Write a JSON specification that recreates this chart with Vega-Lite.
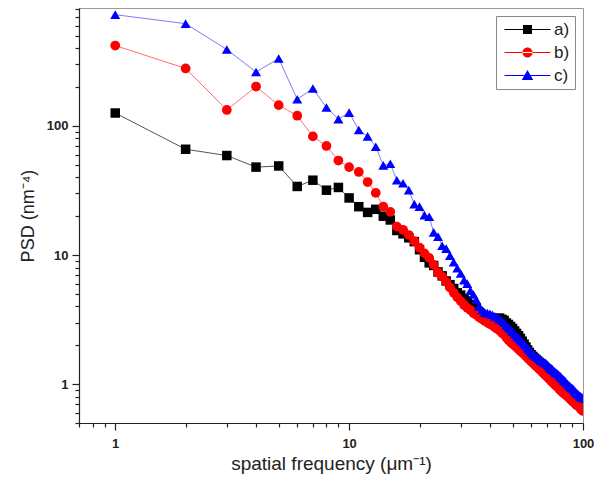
{
  "$schema": "https://vega.github.io/schema/vega-lite/v6.json",
  "width": 504,
  "height": 415,
  "autosize": "none",
  "padding": {"left": 79, "top": 8, "right": 11, "bottom": 54},
  "background": "white",
  "config": {
    "view": {"stroke": "#999999", "strokeWidth": 1},
    "font": "Liberation Sans"
  },
  "data": {"values": [
{"s":"a)","f":1,"v":126},{"s":"a)","f":2,"v":66},{"s":"a)","f":3,"v":59},{"s":"a)","f":4,"v":48},{"s":"a)","f":5,"v":49},{"s":"a)","f":6,"v":34},{"s":"a)","f":7,"v":38},{"s":"a)","f":8,"v":31.8},{"s":"a)","f":9,"v":33.4},{"s":"a)","f":10,"v":27.7},
{"s":"a)","f":11,"v":23.7},{"s":"a)","f":12,"v":21.4},{"s":"a)","f":13,"v":22.6},{"s":"a)","f":14,"v":20.0},{"s":"a)","f":15,"v":18.7},{"s":"a)","f":16,"v":15.5},{"s":"a)","f":17,"v":14.6},{"s":"a)","f":18,"v":13.6},{"s":"a)","f":19,"v":12.7},{"s":"a)","f":20,"v":11.0},
{"s":"a)","f":21,"v":9.6},{"s":"a)","f":22,"v":8.7},{"s":"a)","f":23,"v":8.3},{"s":"a)","f":24,"v":7.4},{"s":"a)","f":25,"v":6.9},{"s":"a)","f":26,"v":6.3},{"s":"a)","f":27,"v":5.9},{"s":"a)","f":28,"v":5.5},{"s":"a)","f":29,"v":5.1},{"s":"a)","f":30,"v":4.9},
{"s":"a)","f":31,"v":4.6},{"s":"a)","f":32,"v":4.4},{"s":"a)","f":33,"v":4.15},{"s":"a)","f":34,"v":4.0},{"s":"a)","f":35,"v":3.85},{"s":"a)","f":36,"v":3.6},{"s":"a)","f":37,"v":3.42},{"s":"a)","f":38,"v":3.32},{"s":"a)","f":39,"v":3.26},{"s":"a)","f":40,"v":3.24},
{"s":"a)","f":41,"v":3.22},{"s":"a)","f":42,"v":3.2},{"s":"a)","f":43,"v":3.22},{"s":"a)","f":44,"v":3.25},{"s":"a)","f":45,"v":3.18},{"s":"a)","f":46,"v":3.12},{"s":"a)","f":47,"v":2.98},{"s":"a)","f":48,"v":2.9},{"s":"a)","f":49,"v":2.8},{"s":"a)","f":50,"v":2.7},
{"s":"a)","f":51,"v":2.58},{"s":"a)","f":52,"v":2.47},{"s":"a)","f":53,"v":2.37},{"s":"a)","f":54,"v":2.26},{"s":"a)","f":55,"v":2.15},{"s":"a)","f":56,"v":2.04},{"s":"a)","f":57,"v":1.94},{"s":"a)","f":58,"v":1.84},{"s":"a)","f":59,"v":1.76},{"s":"a)","f":60,"v":1.69},
{"s":"a)","f":61,"v":1.64},{"s":"a)","f":62,"v":1.59},{"s":"a)","f":63,"v":1.55},{"s":"a)","f":64,"v":1.51},{"s":"a)","f":65,"v":1.47},{"s":"a)","f":66,"v":1.43},{"s":"a)","f":67,"v":1.4},{"s":"a)","f":68,"v":1.37},{"s":"a)","f":69,"v":1.34},{"s":"a)","f":70,"v":1.31},
{"s":"a)","f":71,"v":1.28},{"s":"a)","f":72,"v":1.24},{"s":"a)","f":73,"v":1.21},{"s":"a)","f":74,"v":1.18},{"s":"a)","f":75,"v":1.15},{"s":"a)","f":76,"v":1.12},{"s":"a)","f":77,"v":1.1},{"s":"a)","f":78,"v":1.07},{"s":"a)","f":79,"v":1.05},{"s":"a)","f":80,"v":1.03},
{"s":"a)","f":81,"v":1.0},{"s":"a)","f":82,"v":0.98},{"s":"a)","f":83,"v":0.96},{"s":"a)","f":84,"v":0.94},{"s":"a)","f":85,"v":0.92},{"s":"a)","f":86,"v":0.9},{"s":"a)","f":87,"v":0.88},{"s":"a)","f":88,"v":0.86},{"s":"a)","f":89,"v":0.85},{"s":"a)","f":90,"v":0.83},
{"s":"a)","f":91,"v":0.81},{"s":"a)","f":92,"v":0.8},{"s":"a)","f":93,"v":0.78},{"s":"a)","f":94,"v":0.77},{"s":"a)","f":95,"v":0.75},{"s":"a)","f":96,"v":0.74},{"s":"a)","f":97,"v":0.73},{"s":"a)","f":98,"v":0.72},{"s":"a)","f":99,"v":0.71},{"s":"a)","f":100,"v":0.7},
{"s":"b)","f":1,"v":420},{"s":"b)","f":2,"v":279},{"s":"b)","f":3,"v":133},{"s":"b)","f":4,"v":202},{"s":"b)","f":5,"v":145},{"s":"b)","f":6,"v":120},{"s":"b)","f":7,"v":83},{"s":"b)","f":8,"v":70},{"s":"b)","f":9,"v":54},{"s":"b)","f":10,"v":48},
{"s":"b)","f":11,"v":44},{"s":"b)","f":12,"v":36.8},{"s":"b)","f":13,"v":30.3},{"s":"b)","f":14,"v":23.7},{"s":"b)","f":15,"v":21.6},{"s":"b)","f":16,"v":16.6},{"s":"b)","f":17,"v":15.7},{"s":"b)","f":18,"v":14.3},{"s":"b)","f":19,"v":12.8},{"s":"b)","f":20,"v":11.4},
{"s":"b)","f":21,"v":10.3},{"s":"b)","f":22,"v":9.5},{"s":"b)","f":23,"v":8.4},{"s":"b)","f":24,"v":7.3},{"s":"b)","f":25,"v":6.8},{"s":"b)","f":26,"v":6.2},{"s":"b)","f":27,"v":5.6},{"s":"b)","f":28,"v":5.1},{"s":"b)","f":29,"v":4.7},{"s":"b)","f":30,"v":4.4},
{"s":"b)","f":31,"v":4.1},{"s":"b)","f":32,"v":3.9},{"s":"b)","f":33,"v":3.75},{"s":"b)","f":34,"v":3.55},{"s":"b)","f":35,"v":3.45},{"s":"b)","f":36,"v":3.3},{"s":"b)","f":37,"v":3.2},{"s":"b)","f":38,"v":3.1},{"s":"b)","f":39,"v":3.0},{"s":"b)","f":40,"v":2.92},
{"s":"b)","f":41,"v":2.85},{"s":"b)","f":42,"v":2.75},{"s":"b)","f":43,"v":2.68},{"s":"b)","f":44,"v":2.6},{"s":"b)","f":45,"v":2.5},{"s":"b)","f":46,"v":2.42},{"s":"b)","f":47,"v":2.3},{"s":"b)","f":48,"v":2.2},{"s":"b)","f":49,"v":2.12},{"s":"b)","f":50,"v":2.05},
{"s":"b)","f":51,"v":1.99},{"s":"b)","f":52,"v":1.93},{"s":"b)","f":53,"v":1.87},{"s":"b)","f":54,"v":1.81},{"s":"b)","f":55,"v":1.76},{"s":"b)","f":56,"v":1.7},{"s":"b)","f":57,"v":1.65},{"s":"b)","f":58,"v":1.6},{"s":"b)","f":59,"v":1.55},{"s":"b)","f":60,"v":1.5},
{"s":"b)","f":61,"v":1.46},{"s":"b)","f":62,"v":1.42},{"s":"b)","f":63,"v":1.38},{"s":"b)","f":64,"v":1.35},{"s":"b)","f":65,"v":1.31},{"s":"b)","f":66,"v":1.28},{"s":"b)","f":67,"v":1.24},{"s":"b)","f":68,"v":1.21},{"s":"b)","f":69,"v":1.18},{"s":"b)","f":70,"v":1.15},
{"s":"b)","f":71,"v":1.12},{"s":"b)","f":72,"v":1.09},{"s":"b)","f":73,"v":1.06},{"s":"b)","f":74,"v":1.04},{"s":"b)","f":75,"v":1.01},{"s":"b)","f":76,"v":0.99},{"s":"b)","f":77,"v":0.97},{"s":"b)","f":78,"v":0.95},{"s":"b)","f":79,"v":0.92},{"s":"b)","f":80,"v":0.9},
{"s":"b)","f":81,"v":0.88},{"s":"b)","f":82,"v":0.86},{"s":"b)","f":83,"v":0.85},{"s":"b)","f":84,"v":0.83},{"s":"b)","f":85,"v":0.82},{"s":"b)","f":86,"v":0.8},{"s":"b)","f":87,"v":0.79},{"s":"b)","f":88,"v":0.77},{"s":"b)","f":89,"v":0.76},{"s":"b)","f":90,"v":0.74},
{"s":"b)","f":91,"v":0.73},{"s":"b)","f":92,"v":0.72},{"s":"b)","f":93,"v":0.7},{"s":"b)","f":94,"v":0.69},{"s":"b)","f":95,"v":0.68},{"s":"b)","f":96,"v":0.67},{"s":"b)","f":97,"v":0.66},{"s":"b)","f":98,"v":0.64},{"s":"b)","f":99,"v":0.63},{"s":"b)","f":100,"v":0.62},
{"s":"c)","f":1,"v":728},{"s":"c)","f":2,"v":620},{"s":"c)","f":3,"v":391},{"s":"c)","f":4,"v":262},{"s":"c)","f":5,"v":333},{"s":"c)","f":6,"v":161},{"s":"c)","f":7,"v":195},{"s":"c)","f":8,"v":139},{"s":"c)","f":9,"v":113},{"s":"c)","f":10,"v":127},
{"s":"c)","f":11,"v":93},{"s":"c)","f":12,"v":83},{"s":"c)","f":13,"v":69},{"s":"c)","f":14,"v":49.5},{"s":"c)","f":15,"v":51},{"s":"c)","f":16,"v":38},{"s":"c)","f":17,"v":36},{"s":"c)","f":18,"v":31.8},{"s":"c)","f":19,"v":24.8},{"s":"c)","f":20,"v":23.7},
{"s":"c)","f":21,"v":20.4},{"s":"c)","f":22,"v":19.8},{"s":"c)","f":23,"v":15.0},{"s":"c)","f":24,"v":13.9},{"s":"c)","f":25,"v":11.8},{"s":"c)","f":26,"v":11.2},{"s":"c)","f":27,"v":9.9},{"s":"c)","f":28,"v":8.8},{"s":"c)","f":29,"v":7.9},{"s":"c)","f":30,"v":7.2},
{"s":"c)","f":31,"v":6.4},{"s":"c)","f":32,"v":6.0},{"s":"c)","f":33,"v":5.3},{"s":"c)","f":34,"v":4.95},{"s":"c)","f":35,"v":4.5},{"s":"c)","f":36,"v":4.0},{"s":"c)","f":37,"v":3.75},{"s":"c)","f":38,"v":3.6},{"s":"c)","f":39,"v":3.55},{"s":"c)","f":40,"v":3.5},
{"s":"c)","f":41,"v":3.45},{"s":"c)","f":42,"v":3.35},{"s":"c)","f":43,"v":3.3},{"s":"c)","f":44,"v":3.2},{"s":"c)","f":45,"v":3.1},{"s":"c)","f":46,"v":3.0},{"s":"c)","f":47,"v":2.85},{"s":"c)","f":48,"v":2.75},{"s":"c)","f":49,"v":2.65},{"s":"c)","f":50,"v":2.55},
{"s":"c)","f":51,"v":2.45},{"s":"c)","f":52,"v":2.35},{"s":"c)","f":53,"v":2.28},{"s":"c)","f":54,"v":2.2},{"s":"c)","f":55,"v":2.13},{"s":"c)","f":56,"v":2.05},{"s":"c)","f":57,"v":1.98},{"s":"c)","f":58,"v":1.9},{"s":"c)","f":59,"v":1.83},{"s":"c)","f":60,"v":1.77},
{"s":"c)","f":61,"v":1.72},{"s":"c)","f":62,"v":1.67},{"s":"c)","f":63,"v":1.63},{"s":"c)","f":64,"v":1.6},{"s":"c)","f":65,"v":1.57},{"s":"c)","f":66,"v":1.53},{"s":"c)","f":67,"v":1.5},{"s":"c)","f":68,"v":1.48},{"s":"c)","f":69,"v":1.46},{"s":"c)","f":70,"v":1.43},
{"s":"c)","f":71,"v":1.39},{"s":"c)","f":72,"v":1.35},{"s":"c)","f":73,"v":1.32},{"s":"c)","f":74,"v":1.3},{"s":"c)","f":75,"v":1.27},{"s":"c)","f":76,"v":1.24},{"s":"c)","f":77,"v":1.22},{"s":"c)","f":78,"v":1.2},{"s":"c)","f":79,"v":1.17},{"s":"c)","f":80,"v":1.15},
{"s":"c)","f":81,"v":1.12},{"s":"c)","f":82,"v":1.1},{"s":"c)","f":83,"v":1.07},{"s":"c)","f":84,"v":1.05},{"s":"c)","f":85,"v":1.02},{"s":"c)","f":86,"v":1.0},{"s":"c)","f":87,"v":0.98},{"s":"c)","f":88,"v":0.96},{"s":"c)","f":89,"v":0.94},{"s":"c)","f":90,"v":0.93},
{"s":"c)","f":91,"v":0.91},{"s":"c)","f":92,"v":0.89},{"s":"c)","f":93,"v":0.87},{"s":"c)","f":94,"v":0.85},{"s":"c)","f":95,"v":0.84},{"s":"c)","f":96,"v":0.82},{"s":"c)","f":97,"v":0.81},{"s":"c)","f":98,"v":0.8},{"s":"c)","f":99,"v":0.79},{"s":"c)","f":100,"v":0.78}
  ]},
  "encoding": {
    "x": {
      "field": "f", "type": "quantitative",
      "scale": {"type": "log", "domain": [0.7, 100], "nice": false},
      "axis": {
        "title": "spatial frequency (\u03bcm\u207b\u00b9)",
        "titleFont": "Liberation Sans", "titleFontSize": 19, "titleFontWeight": "normal", "titleColor": "#222222", "titlePadding": 4,
        "values": [0.7,0.8,0.9,1,2,3,4,5,6,7,8,9,10,20,30,40,50,60,70,80,90,100],
        "labelExpr": "datum.value == 1 ? '1' : datum.value == 10 ? '10' : datum.value == 100 ? '100' : ''",
        "labelOverlap": false, "labelFlush": false, "labelBound": false,
        "labelFont": "Liberation Sans", "labelFontSize": 13, "labelFontWeight": "bold", "labelColor": "#222222", "labelPadding": 7,
        "grid": false, "domainColor": "#222222", "domainWidth": 1.2, "tickColor": "#222222", "tickWidth": 1.2,
        "tickSize": {"condition": {"test": "datum.value == 1 || datum.value == 10 || datum.value == 100", "value": 7}, "value": 4}
      }
    },
    "y": {
      "field": "v", "type": "quantitative",
      "scale": {"type": "log", "domain": [0.5, 820], "nice": false},
      "axis": {
        "title": "PSD (nm\u207b\u2074)",
        "titleFont": "Liberation Sans", "titleFontSize": 18, "titleFontWeight": "normal", "titleColor": "#222222", "titlePadding": 9,
        "values": [0.5,0.6,0.7,0.8,0.9,1,2,3,4,5,6,7,8,9,10,20,30,40,50,60,70,80,90,100,200,300,400,500,600,700,800],
        "labelExpr": "datum.value == 1 ? '1' : datum.value == 10 ? '10' : datum.value == 100 ? '100' : ''",
        "labelOverlap": false, "labelFlush": false, "labelBound": false,
        "labelFont": "Liberation Sans", "labelFontSize": 13, "labelFontWeight": "bold", "labelColor": "#222222", "labelPadding": 4,
        "grid": false, "domainColor": "#222222", "domainWidth": 1.2, "tickColor": "#222222", "tickWidth": 1.2,
        "tickSize": {"condition": {"test": "datum.value == 1 || datum.value == 10 || datum.value == 100", "value": 7}, "value": 4}
      }
    }
  },
  "layer": [
    {
      "mark": {"type": "line", "strokeWidth": 1, "clip": true},
      "encoding": {
        "color": {"field": "s", "type": "nominal", "scale": {"domain": ["a)","b)","c)"], "range": ["#555555", "#ff7070", "#7a7aff"]}, "legend": null}
      }
    },
    {
      "mark": {"type": "point", "filled": true, "opacity": 1, "clip": true},
      "encoding": {
        "color": {"field": "s", "type": "nominal", "scale": {"domain": ["a)","b)","c)"], "range": ["#000000", "#ff0000", "#0000ff"]}, "legend": null},
        "shape": {"field": "s", "type": "nominal", "scale": {"domain": ["a)","b)","c)"], "range": ["square", "circle", "triangle-up"]}, "legend": null},
        "size": {"field": "s", "type": "nominal", "scale": {"domain": ["a)","b)","c)"], "range": [90, 100, 115]}, "legend": null}
      }
    },
    {
      "transform": [{"filter": "datum.f < 0"}],
      "mark": {"type": "point", "filled": true, "opacity": 1, "size": 100},
      "encoding": {
        "color": {"field": "s", "type": "nominal", "scale": {"domain": ["a)","b)","c)"], "range": ["#000000", "#ff0000", "#0000ff"]},
          "legend": {"title": null, "orient": "top-right", "offset": 8, "strokeColor": "#888888", "fillColor": "white", "padding": 5,
            "labelFont": "Liberation Sans", "labelFontSize": 17, "labelColor": "#222222", "rowPadding": 5, "symbolOffset": 18, "labelOffset": 18}},
        "shape": {"field": "s", "type": "nominal", "scale": {"domain": ["a)","b)","c)"], "range": [
            "M-4.6,-0.1H4.6V0.1H-4.6Z M-0.9,-0.9H0.9V0.9H-0.9Z",
            "M-4.6,-0.1H4.6V0.1H-4.6Z M-1,0A1,1,0,1,0,1,0A1,1,0,1,0,-1,0Z",
            "M-4.6,-0.1H4.6V0.1H-4.6Z M0,-1.1L1.15,0.9L-1.15,0.9Z"]},
          "legend": {"title": null, "orient": "top-right", "offset": 8, "strokeColor": "#888888", "fillColor": "white", "padding": 5,
            "labelFont": "Liberation Sans", "labelFontSize": 17, "labelColor": "#222222", "rowPadding": 5, "symbolOffset": 18, "labelOffset": 18}}
      }
    }
  ],
  "resolve": {"scale": {"color": "independent", "shape": "independent"}}
}
